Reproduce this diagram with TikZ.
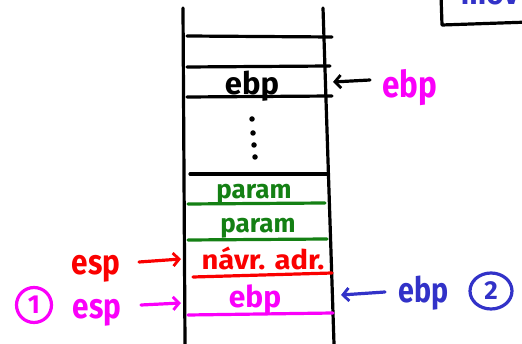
\documentclass[tikz,border=0pt]{standalone}
\usepackage{fontspec}
\setmainfont{Fira Sans}
\usetikzlibrary{arrows.meta,shapes.geometric}
\definecolor{inkgreen}{RGB}{20,128,20}
\definecolor{inkred}{RGB}{250,0,0}
\definecolor{inkmag}{RGB}{250,0,250}
\definecolor{inkblue}{RGB}{50,50,200}
\tikzset{
  stroke/.style={line width=3.2pt, line cap=round, line join=round},
  hand/.style={font=\bfseries\fontsize{#1}{#1}\selectfont, inner sep=0pt, anchor=base},
  hand/.default=28,
  barb/.style={stroke, -{Straight Barb[length=6pt,width=13pt,line width=2.8pt]}},
  dot/.style={circle, fill=black, inner sep=0pt, minimum size=5.5pt},
}
\begin{document}
\begin{tikzpicture}[x=1pt,y=-1pt]
\useasboundingbox (0,0) rectangle (522,344);

% stack frame walls
\draw[stroke] (183,8) -- (185,344);
\draw[stroke] (323,8) -- (334,344);

% black cell borders
\draw[stroke] (187,36) -- (332,37);
\draw[stroke] (187,67) -- (330,66);
\draw[stroke] (187,97) -- (332,96);
\draw[stroke] (190,174) -- (327,174);

% old frame pointer cell and gap
\node[hand=31] (oldebp) at (252,95) {ebp};
\node[dot] (d1) at (252,119) {};
\node[dot] (d2) at (253,133) {};
\node[dot] (d3) at (254,145) {};
\node[dot] (d4) at (255,157) {};

% parameters
\node[hand=26, text=inkgreen] (par1) at (254,199) {param};
\draw[stroke, inkgreen] (188,204) -- (325,203);
\node[hand=26, text=inkgreen] (par2) at (258,233) {param};
\draw[stroke, inkgreen] (188,240) -- (327,239);

% return address
\node[hand=27, text=inkred, xscale=1.08] (ret) at (263,270) {návr. adr.};
\draw[stroke, inkred] (193,277) -- (332,273);

% saved ebp
\node[hand=30, text=inkmag] (savedebp) at (255,308) {ebp};
\draw[stroke, inkmag] (188,315) -- (333,313);

% old ebp pointer
\node[hand=37, text=inkmag, xscale=0.85] (lblebpA) at (410,98) {ebp};
\coordinate (tailA) at (370,80);
\coordinate (tipA) at (333,82);
\draw[barb, black] (tailA) -- (tipA);

% esp before and after
\node[hand=35, text=inkred, xscale=0.85] (lblespA) at (96,275) {esp};
\coordinate (tailB) at (139,262);
\coordinate (tipB) at (181,259);
\draw[barb, inkred] (tailB) -- (tipB);

\node[hand=35, text=inkmag, xscale=0.85] (lblespB) at (97,319) {esp};
\coordinate (tailC) at (141,305);
\coordinate (tipC) at (181,303);
\draw[barb, inkmag] (tailC) -- (tipC);
\node[draw=inkmag, stroke, circle, minimum size=35pt, inner sep=0pt,
      text=inkmag, font=\bfseries\fontsize{26}{26}\selectfont] (stepone) at (34,305) {1};

% new ebp
\node[hand=35, text=inkblue, xscale=0.82] (lblebpB) at (424,303) {ebp};
\coordinate (tailD) at (385,292);
\coordinate (tipD) at (341,295);
\draw[barb, inkblue] (tailD) -- (tipD);
\node[draw=inkblue, stroke, ellipse, minimum width=42pt, minimum height=36pt,
      inner sep=0pt, text=inkblue, font=\bfseries\fontsize{26}{26}\selectfont] (steptwo) at (491,291) {2};

% instruction box in the corner
\draw[stroke] (441,-5) -- (442,25) -- (530,22);
\begin{scope}
  \clip (444,0) rectangle (522,9);
  \node[hand=30, text=inkblue] (instr) at (490,5) {mov};
\end{scope}
\end{tikzpicture}
\end{document}
